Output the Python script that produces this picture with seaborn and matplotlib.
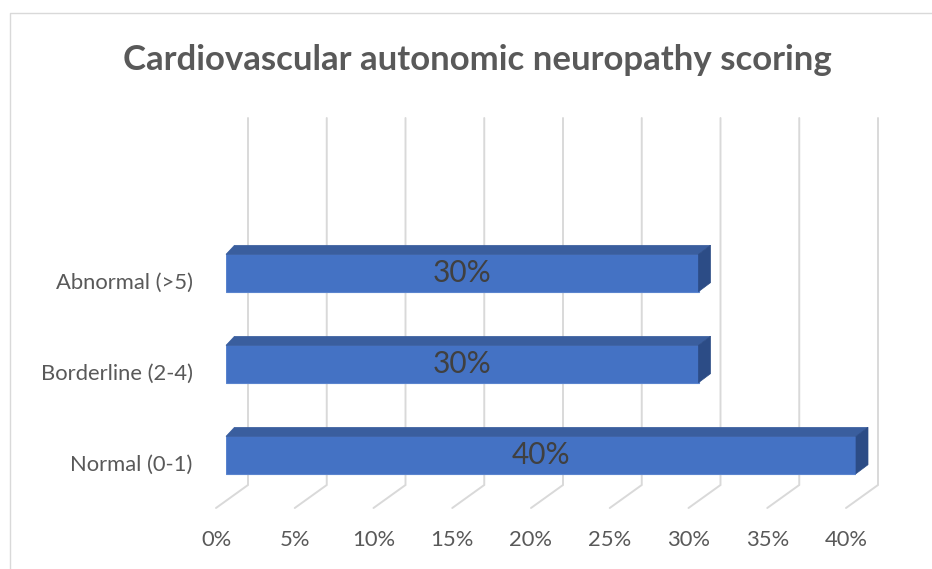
import numpy as np
import matplotlib
matplotlib.use("Agg")
import matplotlib.pyplot as plt
import matplotlib.transforms as mtransforms
from matplotlib.patches import Polygon
from matplotlib.lines import Line2D
import seaborn as sns

# ---- data ----
categories = ["Abnormal (>5)", "Borderline (2-4)", "Normal (0-1)"]
values = [0.30, 0.30, 0.40]
xticks = [0.0, 0.05, 0.10, 0.15, 0.20, 0.25, 0.30, 0.35, 0.40]
xtick_labels = ["0%", "5%", "10%", "15%", "20%", "25%", "30%", "35%", "40%"]
title = "Cardiovascular autonomic neuropathy scoring"

# ---- style ----
sns.set_theme(style="white")
plt.rcParams["font.family"] = ["Lato", "DejaVu Sans"]

W, H, DPI = 932, 569, 100
fig = plt.figure(figsize=(W / DPI, H / DPI), dpi=DPI)
fig.patch.set_facecolor("white")

# axes placed in pixel layout (front plane)
ax_left, ax_right, ax_top, ax_bottom = 226, 856, 118, 508
ax = fig.add_axes([ax_left / W, 1 - ax_bottom / H,
                   (ax_right - ax_left) / W, (ax_bottom - ax_top) / H])
ax.set_facecolor("none")

front = "#4472C4"
top_c = "#3A5E9E"
side_c = "#2C4C86"
grid_c = "#D9D9D9"
text_c = "#595959"

sns.barplot(x=values, y=categories, orient="h", color=front, saturation=1,
            width=0.41, ax=ax, edgecolor="#5A84CE", linewidth=0.8, zorder=3)

ax.set_xlim(0, 0.40)
ax.set_ylim(2.582, -1.703)
for s in ax.spines.values():
    s.set_visible(False)
ax.set_xlabel("")
ax.set_ylabel("")

# depth offsets (pixels)
bdx, bdy = 12, 9       # bar depth
gdx = 22               # back wall offset relative to front face
fdx = -10              # floor front offset
wall_bottom_frac = (ax_bottom - 485) / (ax_bottom - ax_top)

fig.canvas.draw()
ident = mtransforms.IdentityTransform()

# gridlines on back wall + floor diagonals
blend = mtransforms.blended_transform_factory(ax.transData, ax.transAxes)
for t in xticks:
    x0, ytop = blend.transform((t, 1.0))
    _, ywb = blend.transform((t, wall_bottom_frac))
    _, yfb = blend.transform((t, 0.0))
    ln = Line2D([x0 + gdx, x0 + gdx, x0 + fdx], [ytop, ywb, yfb],
                transform=ident, color=grid_c, lw=1.4, zorder=0,
                solid_joinstyle="miter")
    ln.set_clip_on(False)
    fig.add_artist(ln)

# 3D faces of the bars
for p in ax.patches:
    x0, y0 = p.get_x(), p.get_y()
    w, h = p.get_width(), p.get_height()
    (px0, py0), (px1, py1) = ax.transData.transform([(x0, y0), (x0 + w, y0 + h)])
    ptop = max(py0, py1)
    pbot = min(py0, py1)
    topface = Polygon([(px0, ptop), (px1, ptop), (px1 + bdx, ptop + bdy),
                       (px0 + bdx * 0.7, ptop + bdy)], closed=True,
                      transform=ident, facecolor=top_c, edgecolor=top_c,
                      lw=0.5, zorder=2)
    sideface = Polygon([(px1, ptop), (px1 + bdx, ptop + bdy),
                        (px1 + bdx, pbot + bdy), (px1, pbot)], closed=True,
                       transform=ident, facecolor=side_c, edgecolor=side_c,
                       lw=0.5, zorder=2)
    for poly in (topface, sideface):
        poly.set_clip_on(False)
        fig.add_artist(poly)

# data labels
ax.bar_label(ax.containers[0], labels=[f"{v:.0%}" for v in values],
             label_type="center", fontsize=21.5, color="#404040", zorder=5)

# ticks
ax.set_xticks(xticks)
ax.set_xticklabels(xtick_labels)
ax.tick_params(axis="x", length=0, pad=16, labelsize=15.8, labelcolor=text_c)
ax.tick_params(axis="y", length=0, pad=24, labelsize=15.8, labelcolor=text_c)
shift_x = mtransforms.ScaledTranslation(fdx / DPI, 0, fig.dpi_scale_trans)
for lab in ax.get_xticklabels():
    lab.set_transform(lab.get_transform() + shift_x)
shift_y = mtransforms.ScaledTranslation(0, -8 / DPI, fig.dpi_scale_trans)
for lab in ax.get_yticklabels():
    lab.set_transform(lab.get_transform() + shift_y)

# title
fig.text(477 / W, 1 - 60 / H, title, ha="center", va="center",
         fontsize=25, fontweight="bold", color=text_c)

# chart border (left & top visible)
bx, by = 9.5 / W, 1 - 13 / H
fig.add_artist(Line2D([bx, bx, 1.01], [-0.01, by, by], transform=fig.transFigure,
                      color=grid_c, lw=1.0))

fig.savefig("out.png", dpi=DPI, facecolor="white")
